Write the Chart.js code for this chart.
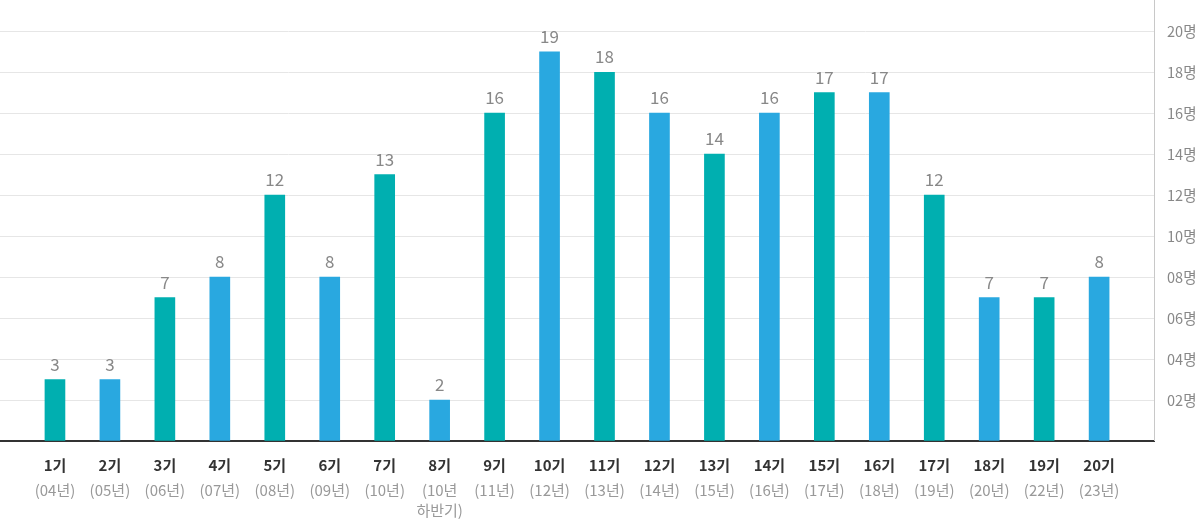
<!DOCTYPE html>
<html>
<head>
<meta charset="utf-8">
<script src="https://cdn.jsdelivr.net/npm/chart.js@4/dist/chart.umd.min.js"></script>
<style>
html,body{margin:0;padding:0;background:#fff;}
#wrap{width:1200px;height:520px;position:relative;}
</style>
</head>
<body>
<div id="wrap"><canvas id="c"></canvas></div>
<script>
const cohorts = ['1기','2기','3기','4기','5기','6기','7기','8기','9기','10기','11기','12기','13기','14기','15기','16기','17기','18기','19기','20기'];
const years = ['(04년)','(05년)','(06년)','(07년)','(08년)','(09년)','(10년)','(10년\n하반기)','(11년)','(12년)','(13년)','(14년)','(15년)','(16년)','(17년)','(18년)','(19년)','(20년)','(22년)','(23년)'];
const members = [3,3,7,8,12,8,13,2,16,19,18,16,14,16,17,17,12,7,7,8];
const yTicks = [0,2,4,6,8,10,12,14,16,18,20];
const yMax = 21.5;

const FONT = '"Noto Sans CJK KR","Noto Sans",sans-serif';
const TEAL = '#00AFB0';
const BLUE = '#29A8E0';

const valueLabels = {
  id: 'valueLabels',
  afterDatasetsDraw(chart) {
    const ctx = chart.ctx;
    const meta = chart.getDatasetMeta(0);
    const data = chart.data.datasets[0].data;
    ctx.save();
    ctx.font = '17px ' + FONT;
    ctx.fillStyle = '#888';
    ctx.textAlign = 'center';
    ctx.textBaseline = 'alphabetic';
    meta.data.forEach((el, i) => {
      const v = data[i];
      if (v === null || v === undefined) return;
      ctx.fillText(String(v), el.x, el.y - 9);
    });
    ctx.restore();
  }
};

new Chart(document.getElementById('c'), {
  type: 'bar',
  data: {
    labels: ['', ...cohorts, ''],
    datasets: [{
      data: [null, ...members, null],
      backgroundColor: ['rgba(0,0,0,0)', ...members.map((_, i) => i % 2 === 0 ? TEAL : BLUE), 'rgba(0,0,0,0)'],
      barThickness: 20,
      borderWidth: 0
    }]
  },
  options: {
    responsive: true,
    maintainAspectRatio: false,
    animation: false,
    layout: { padding: { top: 0, right: 3.5, left: 0, bottom: 0 } },
    plugins: { legend: { display: false }, tooltip: { enabled: false } },
    scales: {
      x: {
        type: 'category',
        offset: false,
        labels: ['', ...cohorts, ''],
        grid: { display: true, drawOnChartArea: false, drawTicks: true, tickLength: 15, tickColor: 'rgba(0,0,0,0)' },
        border: { display: true, color: '#333', width: 2 },
        ticks: { autoSkip: false, maxRotation: 0, padding: 0, color: '#333', font: { family: FONT, size: 15, weight: 'bold', lineHeight: 1.2 } }
      },
      x2: {
        type: 'category',
        position: 'bottom',
        offset: false,
        labels: ['', ...years.map(s => s.includes('\n') ? s.split('\n') : s), ''],
        grid: { display: true, drawOnChartArea: false, drawTicks: true, tickLength: 6, tickColor: 'rgba(0,0,0,0)' },
        border: { display: false },
        ticks: { autoSkip: false, maxRotation: 0, padding: 0, color: '#999', font: { family: FONT, size: 15, lineHeight: 1.3334 } }
      },
      y: {
        position: 'right',
        min: 0,
        max: yMax,
        afterBuildTicks(scale) { scale.ticks = [...yTicks, yMax].map(v => ({ value: v })); },
        grid: {
          color: c => (c.tick && c.tick.value > 20) ? 'rgba(0,0,0,0)' : '#e6e6e6',
          drawTicks: true, tickLength: 13, tickColor: 'rgba(0,0,0,0)'
        },
        border: { display: true, color: '#c8c8c8', width: 1 },
        ticks: {
          padding: 0,
          color: '#888',
          font: c => (c.tick && c.tick.value > 20) ? { family: FONT, size: 1, lineHeight: 1 } : { family: FONT, size: 14.5 },
          callback: v => (v === 0 || v > 20) ? '' : String(v).padStart(2, '0') + '명'
        }
      }
    }
  },
  plugins: [valueLabels]
});
</script>
</body>
</html>
